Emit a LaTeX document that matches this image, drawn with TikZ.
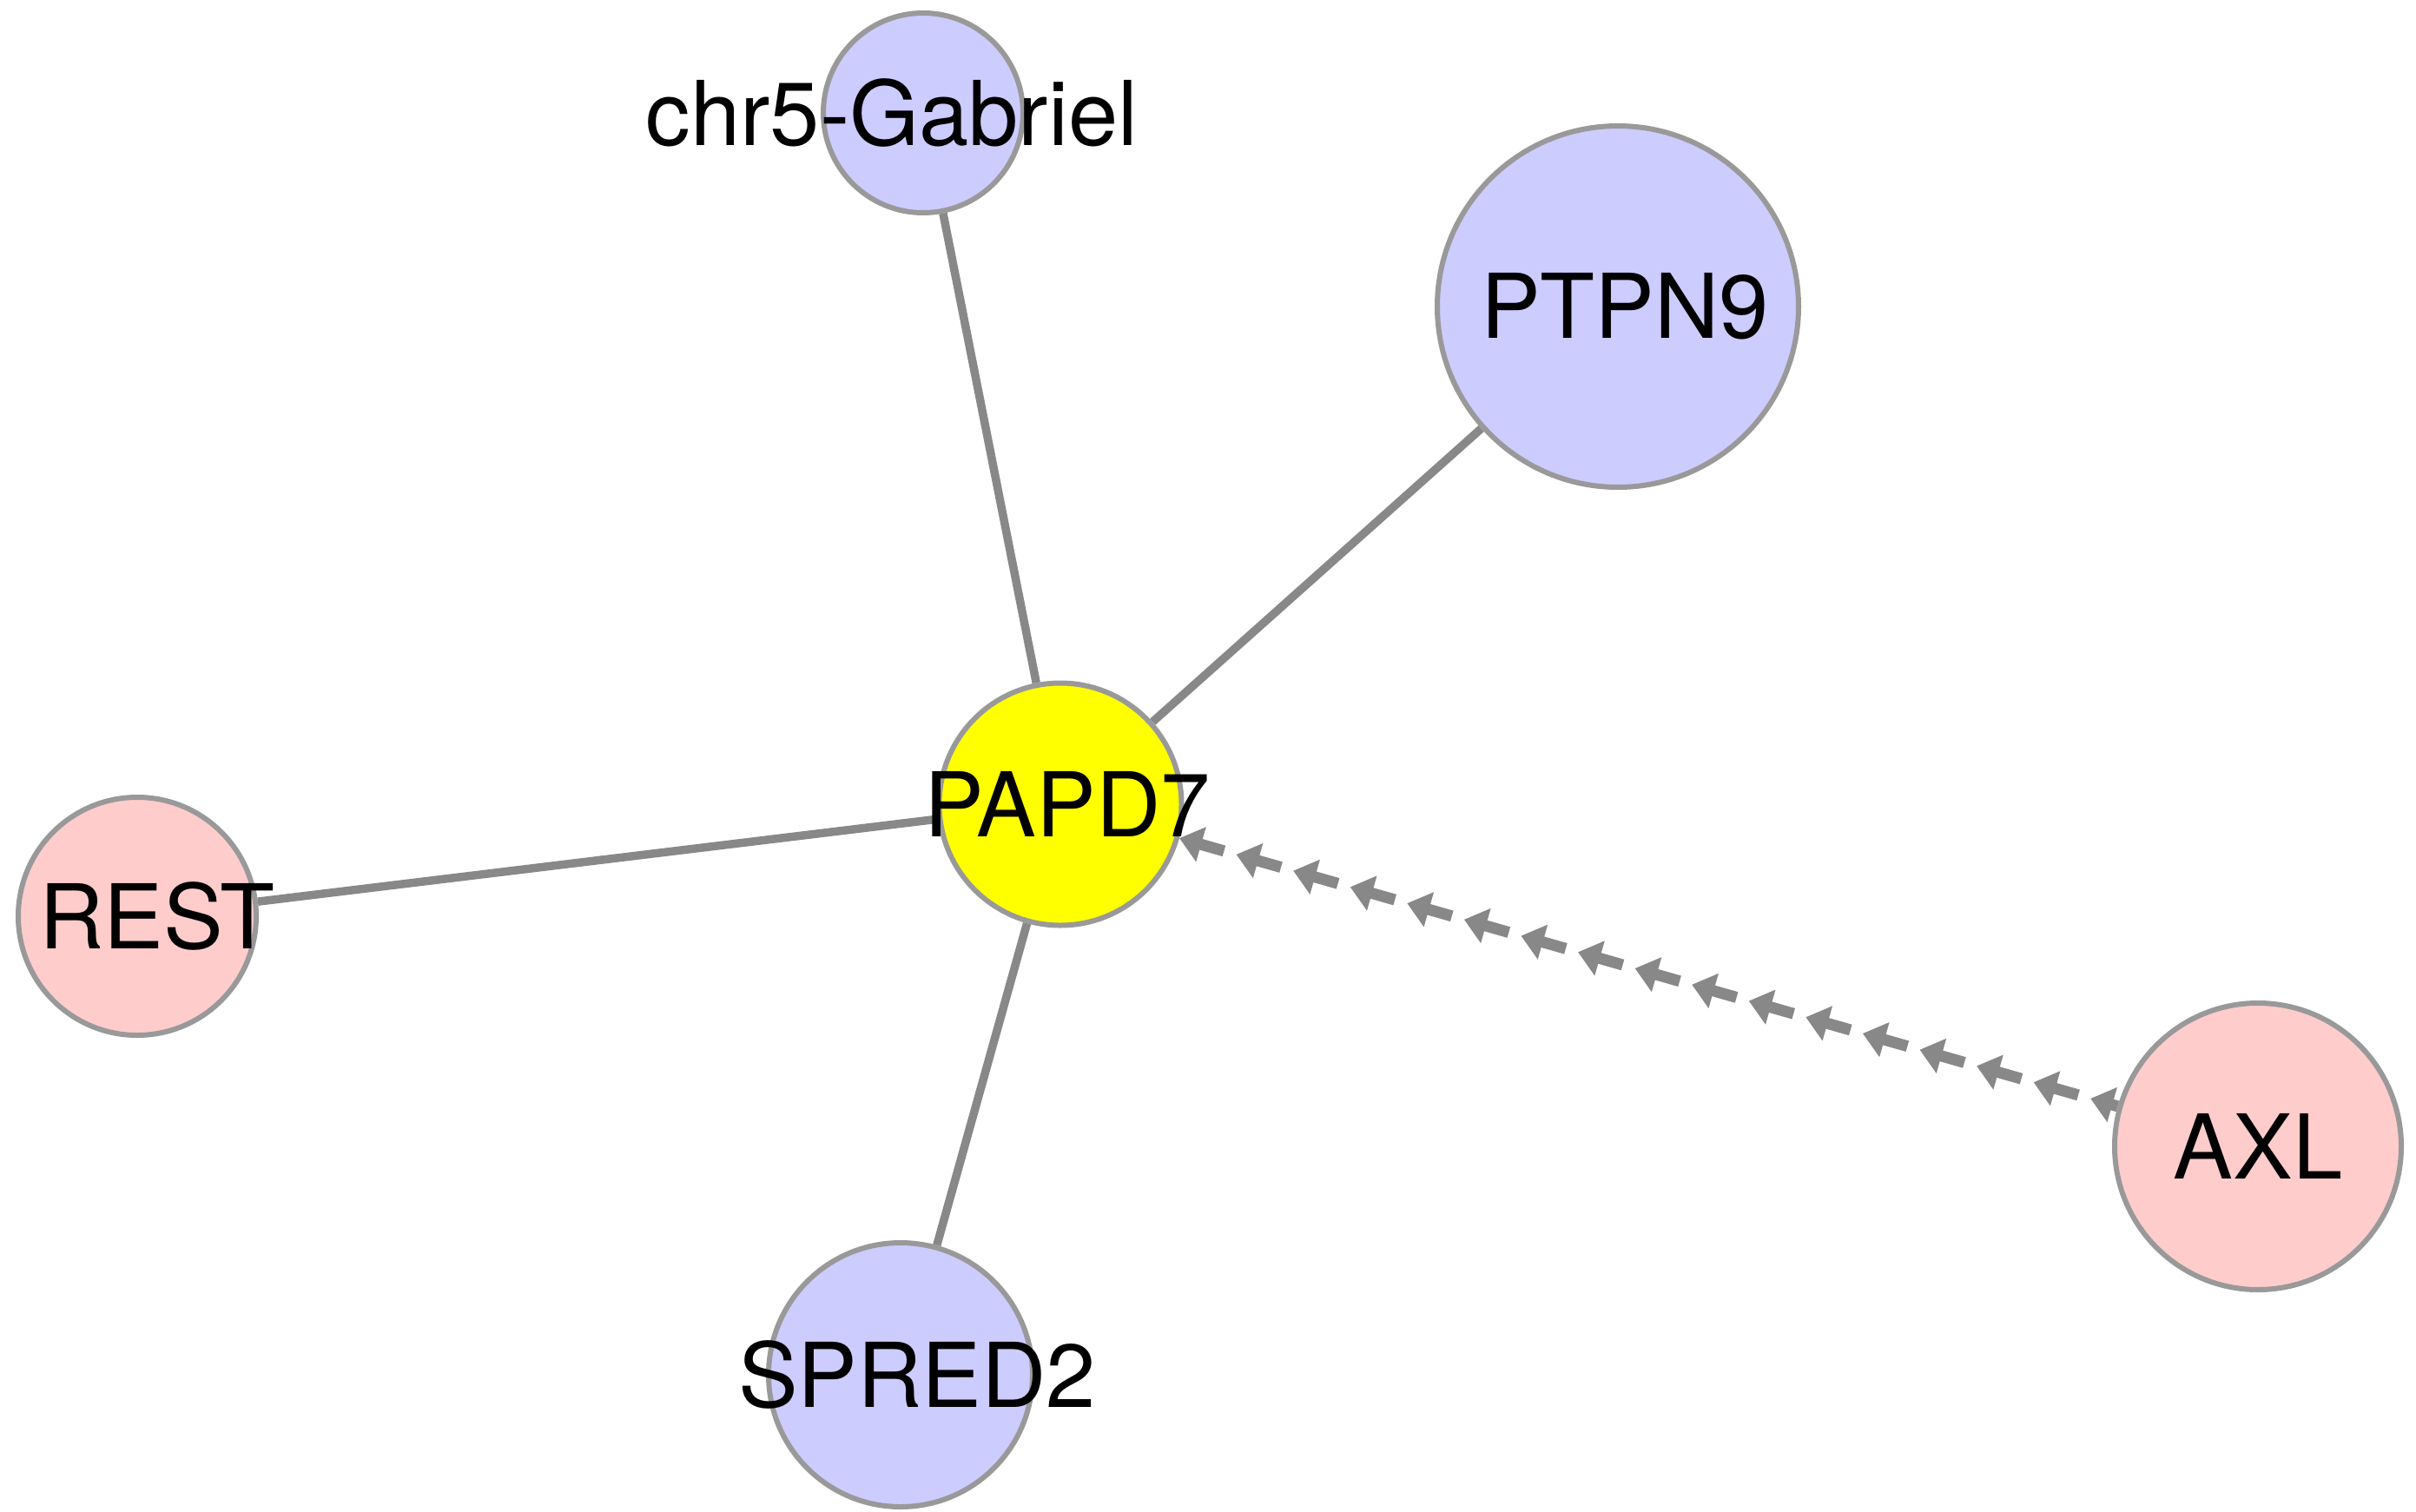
\documentclass[tikz,border=0pt]{standalone}
\usepackage{fontspec}
\setmainfont{TeX Gyre Heros}
\usetikzlibrary{arrows.meta,decorations.markings,backgrounds}
\definecolor{geneblue}{HTML}{CCCCFF}
\definecolor{genepink}{HTML}{FFCCCC}
\definecolor{geneyellow}{HTML}{FFFF00}
\definecolor{rimgray}{HTML}{999999}
\definecolor{edgegray}{HTML}{888888}

\begin{document}
\begin{tikzpicture}[x=1cm,y=1cm,
  gene/.style={circle,draw=rimgray,line width=0.06cm,inner sep=0pt},
  every label/.style={font=\fontsize{29.3}{35}\selectfont,inner sep=0pt},
  link/.style={draw=edgegray,line width=0.095cm},
  regarrows/.style={color=edgegray,line width=0.13cm,
    dash pattern=on 0.385cm off 0.297cm,dash phase=0.532cm,
    postaction={decorate,decoration={markings,
      mark=between positions 0 and 1 step 0.682cm with {\arrowreversed{Triangle[length=0.26cm,width=0.40cm]}}}}}]
  \useasboundingbox (0,0) rectangle (27.82,-17.40);
  \node[gene,fill=geneyellow,minimum size=2.79cm,label={[xshift=0.08cm]center:PAPD7}] (papd7) at (12.21,-9.26) {};
  \node[gene,fill=geneblue,minimum size=2.30cm,label={[xshift=-0.36cm]center:chr5-Gabriel}] (chr5) at (10.63,-1.30) {};
  \node[gene,fill=geneblue,minimum size=4.16cm,label={[xshift=0.08cm]center:PTPN9}] (ptpn9) at (18.63,-3.53) {};
  \node[gene,fill=genepink,minimum size=2.74cm,label={[xshift=0.23cm]center:REST}] (rest) at (1.58,-10.55) {};
  \node[gene,fill=geneblue,minimum size=3.04cm,label={[xshift=0.19cm]center:SPRED2}] (spred2) at (10.37,-15.83) {};
  \node[gene,fill=genepink,minimum size=3.30cm,label=center:AXL] (axl) at (26.00,-13.20) {};
  \begin{scope}[on background layer]
    \draw[link] (papd7) -- (chr5);
    \draw[link] (papd7) -- (ptpn9);
    \draw[link] (papd7) -- (rest);
    \draw[link] (papd7) -- (spred2);
    \draw[regarrows] (papd7) -- (axl);
  \end{scope}
\end{tikzpicture}
\end{document}
